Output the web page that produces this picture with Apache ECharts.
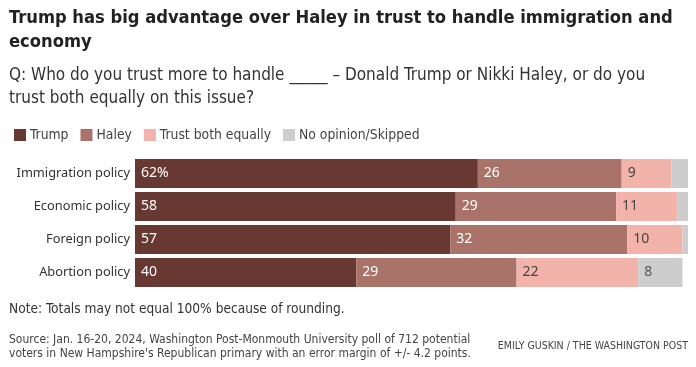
<!DOCTYPE html>
<html><head><meta charset="utf-8">
<script src="https://cdn.jsdelivr.net/npm/echarts@6/dist/echarts.min.js"></script>
<style>html,body{margin:0;padding:0;background:#fff}#c{width:696px;height:367px}</style>
</head><body><div id="c"></div>
<script>
const categories = ['Immigration policy','Economic policy','Foreign policy','Abortion policy'];
const trump = [62, 58, 57, 40];
const haley = [26, 29, 32, 29];
const both = [9, 11, 10, 22];
const noOpinion = [3, 2, 1, 8];
const seriesNames = ['Trump','Haley','Trust both equally','No opinion/Skipped'];
const colors = ['#683832','#a9736a','#f2b3aa','#cdcdcd'];
const labelColors = ['#ffffff','#ffffff','#444444','#555555'];

const condensed = "'Liberation Sans Narrow','DejaVu Sans Condensed','Roboto Condensed',sans-serif";
const chart = echarts.init(document.getElementById('c'), null, {renderer:'canvas'});
const dataSets = [trump, haley, both, noOpinion];
const series = dataSets.map((d, i) => ({
  name: seriesNames[i], type: 'bar', stack: 'all', barWidth: 29,
  data: d.slice().reverse(),
  itemStyle: {color: colors[i]},
  label: {
    show: true, position: 'insideLeft', distance: 6,
    color: labelColors[i], fontSize: 14, fontFamily: "'Noto Sans',sans-serif",
    formatter: p => {
      if (p.value < 5) return '';
      if (i === 0 && p.dataIndex === categories.length - 1) return p.value + '%';
      return String(p.value);
    }
  }
}));

chart.setOption({
  animation: false,
  legend: {
    left: 9, top: 123, itemWidth: 12, itemHeight: 12, itemGap: 12,
    icon: 'rect',
    textStyle: {fontSize: 13.8, color: '#444', fontFamily: condensed, padding: [0,0,0,-1]},
    data: seriesNames
  },
  grid: {left: 135, right: 8, top: 157, height: 132},
  xAxis: {type: 'value', min: 0, max: 100, show: false},
  yAxis: {
    type: 'category', data: categories.slice().reverse(),
    axisLine: {show: false}, axisTick: {show: false},
    axisLabel: {fontSize: 12.8, color: '#333', margin: 5, fontFamily: "'Noto Sans',sans-serif"}
  },
  series: series,
  graphic: [
    {type: 'text', left: 9, top: 6, style: {text: 'Trump has big advantage over Haley in trust to handle immigration and\neconomy', font: "bold 18.2px " + condensed, fill: '#222', lineHeight: 24}},
    {type: 'text', left: 9, top: 64, style: {text: 'Q: Who do you trust more to handle _____ – Donald Trump or Nikki Haley, or do you\ntrust both equally on this issue?', font: "17px " + condensed, fill: '#333', lineHeight: 23}},
    {type: 'text', left: 9, top: 302, style: {text: 'Note: Totals may not equal 100% because of rounding.', font: "13.6px " + condensed, fill: '#333'}},
    {type: 'text', left: 9, top: 333, style: {text: "Source: Jan. 16-20, 2024, Washington Post-Monmouth University poll of 712 potential\nvoters in New Hampshire's Republican primary with an error margin of +/- 4.2 points.", font: "12px " + condensed, fill: '#444', lineHeight: 14}},
    {type: 'text', right: 8, top: 341, style: {text: 'EMILY GUSKIN / THE WASHINGTON POST', font: "10.5px " + condensed, fill: '#444'}}
  ]
});
</script></body></html>
